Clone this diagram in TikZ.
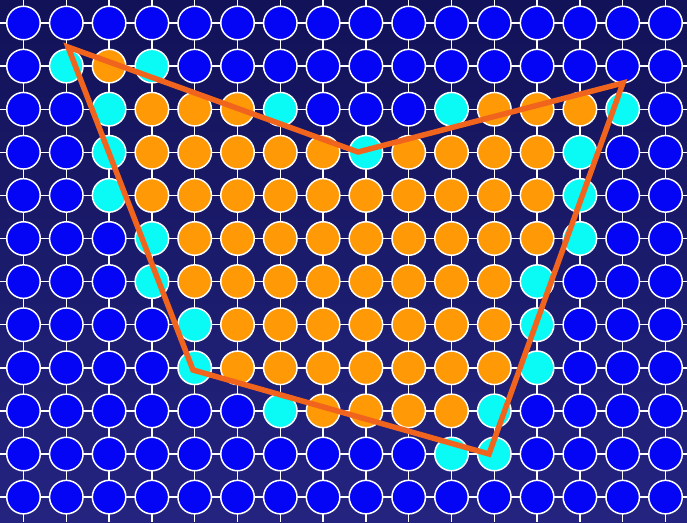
\documentclass[tikz,border=0pt]{standalone}
\usetikzlibrary{shapes.geometric}
\definecolor{bgtop}{RGB}{18,18,88}
\definecolor{bgbot}{RGB}{36,36,128}
\definecolor{cB}{RGB}{5,5,245}
\definecolor{cC}{RGB}{10,250,245}
\definecolor{cO}{RGB}{255,153,5}
\definecolor{polyc}{RGB}{240,100,30}
\tikzset{
  dot/.style={circle, draw=white, line width=1.5pt, minimum size=33.5pt, inner sep=0pt},
  gridline/.style={white, line width=1.4pt},
  hull/.style={polyc, line width=5.5pt, line join=miter, line cap=round}
}
\begin{document}
\begin{tikzpicture}[x=1pt,y=-1pt]
\useasboundingbox (0,0) rectangle (687,522);
\fill[top color=bgtop, bottom color=bgbot] (0,0) rectangle (687,522);
% grid lines
\foreach \i in {0,...,15} {
  \draw[gridline] ({23.5+42.8*\i},0) -- ({23.5+42.8*\i},522);
}
\foreach \j in {0,...,11} {
  \draw[gridline] (0,{23+43.1*\j}) -- (687,{23+43.1*\j});
}
% circles
\foreach \row [count=\j from 0] in {
  {B,B,B,B,B,B,B,B,B,B,B,B,B,B,B,B},
  {B,C,O,C,B,B,B,B,B,B,B,B,B,B,B,B},
  {B,B,C,O,O,O,C,B,B,B,C,O,O,O,C,B},
  {B,B,C,O,O,O,O,O,C,O,O,O,O,C,B,B},
  {B,B,C,O,O,O,O,O,O,O,O,O,O,C,B,B},
  {B,B,B,C,O,O,O,O,O,O,O,O,O,C,B,B},
  {B,B,B,C,O,O,O,O,O,O,O,O,C,B,B,B},
  {B,B,B,B,C,O,O,O,O,O,O,O,C,B,B,B},
  {B,B,B,B,C,O,O,O,O,O,O,O,C,B,B,B},
  {B,B,B,B,B,B,C,O,O,O,O,C,B,B,B,B},
  {B,B,B,B,B,B,B,B,B,B,C,C,B,B,B,B},
  {B,B,B,B,B,B,B,B,B,B,B,B,B,B,B,B}} {
  \foreach \c [count=\i from 0] in \row {
    \node[dot, fill=c\c] (c-\i-\j) at ({23.5+42.8*\i},{23+43.1*\j}) {};
  }
}
% polygon
\coordinate (p1) at (68,47);
\coordinate (p2) at (358,152);
\coordinate (p3) at (623,83);
\coordinate (p4) at (489,454);
\coordinate (p5) at (193,370);
\draw[hull] (p1) -- (p2) -- (p3) -- (p4) -- (p5) -- cycle;
\end{tikzpicture}
\end{document}
